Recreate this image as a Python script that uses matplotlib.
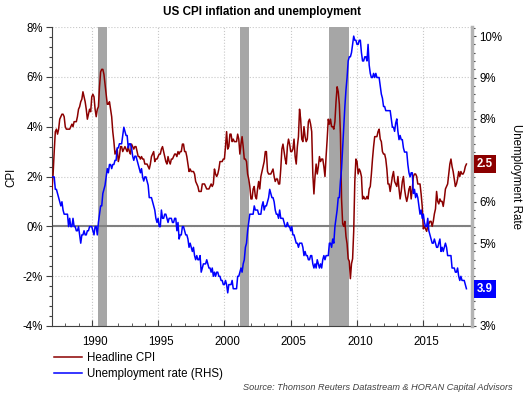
import matplotlib
matplotlib.use('Agg')
import matplotlib.pyplot as plt
import numpy as np
from matplotlib.lines import Line2D
from matplotlib.ticker import MultipleLocator, FuncFormatter, FixedLocator
from matplotlib.transforms import blended_transform_factory, ScaledTranslation

plt.rcParams['font.family'] = ['Liberation Sans', 'DejaVu Sans']

start_year = 1987  # monthly data, Jan 1987 .. Apr 2018

cpi = [
    1.5, 2.1, 3.0, 3.8, 3.9, 3.7, 3.9, 4.3, 4.4, 4.5, 4.5, 4.4,
    4.0, 3.9, 3.9, 3.9, 3.9, 4.0, 4.1, 4.0, 4.2, 4.2, 4.2, 4.4,
    4.7, 4.8, 5.0, 5.1, 5.4, 5.2, 5.0, 4.7, 4.3, 4.5, 4.7, 4.6,
    5.2, 5.3, 5.2, 4.7, 4.4, 4.7, 4.8, 5.6, 6.2, 6.3, 6.3, 6.1,
    5.7, 5.3, 4.9, 4.9, 5.0, 4.7, 4.4, 3.8, 3.4, 2.9, 3.0, 3.1,
    2.6, 2.8, 3.2, 3.2, 3.0, 3.1, 3.2, 3.1, 3.0, 3.2, 3.0, 2.9,
    3.3, 3.2, 3.1, 3.2, 3.2, 3.0, 2.8, 2.8, 2.7, 2.8, 2.7, 2.7,
    2.5, 2.5, 2.5, 2.4, 2.3, 2.5, 2.8, 2.9, 3.0, 2.6, 2.7, 2.7,
    2.8, 2.9, 2.9, 3.1, 3.2, 3.0, 2.8, 2.6, 2.5, 2.8, 2.6, 2.5,
    2.7, 2.7, 2.8, 2.9, 2.9, 2.8, 3.0, 2.9, 3.0, 3.0, 3.3, 3.3,
    3.0, 3.0, 2.8, 2.5, 2.2, 2.3, 2.2, 2.2, 2.2, 2.1, 1.8, 1.7,
    1.6, 1.4, 1.4, 1.4, 1.7, 1.7, 1.7, 1.6, 1.5, 1.5, 1.5, 1.6,
    1.7, 1.6, 1.7, 2.3, 2.1, 2.0, 2.1, 2.3, 2.6, 2.6, 2.6, 2.7,
    2.7, 3.2, 3.8, 3.1, 3.2, 3.7, 3.7, 3.4, 3.5, 3.4, 3.4, 3.4,
    3.7, 3.5, 2.9, 3.3, 3.6, 3.2, 2.7, 2.7, 2.6, 2.1, 1.9, 1.6,
    1.1, 1.1, 1.5, 1.6, 1.2, 1.1, 1.5, 1.8, 1.5, 2.0, 2.2, 2.4,
    2.6, 3.0, 3.0, 2.2, 2.1, 2.1, 2.1, 2.2, 2.3, 2.0, 1.8, 1.9,
    1.9, 1.7, 1.7, 2.3, 3.1, 3.3, 3.0, 2.7, 2.5, 3.2, 3.5, 3.3,
    3.0, 3.0, 3.1, 3.5, 2.8, 2.5, 3.2, 3.6, 4.7, 4.3, 3.5, 3.4,
    4.0, 3.6, 3.4, 3.5, 4.2, 4.3, 4.1, 3.8, 2.1, 1.3, 2.0, 2.5,
    2.1, 2.4, 2.8, 2.6, 2.7, 2.7, 2.4, 2.0, 2.8, 3.5, 4.3, 4.1,
    4.3, 4.0, 4.0, 3.9, 4.2, 5.0, 5.6, 5.4, 4.9, 3.7, 1.1, 0.1,
    0.0, 0.2, -0.4, -0.7, -1.3, -1.4, -2.1, -1.5, -1.3, -0.2, 1.8, 2.7,
    2.6, 2.1, 2.3, 2.2, 2.0, 1.1, 1.2, 1.1, 1.1, 1.2, 1.1, 1.5,
    1.6, 2.1, 2.7, 3.2, 3.6, 3.6, 3.6, 3.8, 3.9, 3.5, 3.4, 3.0,
    2.9, 2.9, 2.7, 2.3, 1.7, 1.7, 1.4, 1.7, 2.0, 2.2, 1.8, 1.7,
    1.6, 2.0, 1.5, 1.1, 1.4, 1.8, 2.0, 1.5, 1.2, 1.0, 1.2, 1.5,
    1.6, 1.1, 1.5, 2.0, 2.1, 2.1, 2.0, 1.7, 1.7, 1.7, 1.3, 0.8,
    -0.1, 0.0, -0.1, -0.2, 0.0, 0.1, 0.2, 0.2, 0.0, 0.2, 0.5, 0.7,
    1.4, 1.0, 0.9, 1.1, 1.0, 1.0, 0.8, 1.1, 1.5, 1.6, 1.7, 2.1,
    2.5, 2.7, 2.4, 2.2, 1.9, 1.6, 1.7, 1.9, 2.2, 2.0, 2.2, 2.1,
    2.1, 2.2, 2.4, 2.5,
]

unemployment = [
    6.6, 6.6, 6.6, 6.3, 6.3, 6.2, 6.1, 6.0, 5.9, 6.0, 5.8, 5.7,
    5.7, 5.7, 5.7, 5.4, 5.6, 5.4, 5.4, 5.6, 5.4, 5.4, 5.3, 5.3,
    5.4, 5.2, 5.0, 5.2, 5.2, 5.3, 5.2, 5.2, 5.3, 5.3, 5.4, 5.4,
    5.4, 5.3, 5.2, 5.4, 5.4, 5.2, 5.5, 5.7, 5.9, 5.9, 6.2, 6.3,
    6.4, 6.6, 6.8, 6.7, 6.9, 6.9, 6.8, 6.9, 6.9, 7.0, 7.0, 7.3,
    7.3, 7.4, 7.4, 7.4, 7.6, 7.8, 7.7, 7.6, 7.6, 7.3, 7.4, 7.4,
    7.3, 7.1, 7.0, 7.1, 7.1, 7.0, 6.9, 6.8, 6.7, 6.8, 6.6, 6.5,
    6.6, 6.6, 6.5, 6.4, 6.1, 6.1, 6.1, 6.0, 5.9, 5.8, 5.6, 5.5,
    5.6, 5.4, 5.4, 5.8, 5.6, 5.6, 5.7, 5.7, 5.6, 5.5, 5.6, 5.6,
    5.6, 5.5, 5.5, 5.6, 5.6, 5.3, 5.5, 5.1, 5.2, 5.2, 5.4, 5.4,
    5.3, 5.2, 5.2, 5.1, 4.9, 5.0, 4.9, 4.8, 4.9, 4.7, 4.6, 4.7,
    4.6, 4.6, 4.7, 4.3, 4.4, 4.5, 4.5, 4.5, 4.6, 4.5, 4.4, 4.4,
    4.3, 4.4, 4.2, 4.3, 4.2, 4.3, 4.3, 4.2, 4.2, 4.1, 4.1, 4.0,
    4.0, 4.1, 4.0, 3.8, 4.0, 4.0, 4.0, 4.1, 3.9, 3.9, 3.9, 3.9,
    4.2, 4.2, 4.3, 4.4, 4.3, 4.5, 4.6, 4.9, 5.0, 5.3, 5.5, 5.7,
    5.7, 5.7, 5.7, 5.9, 5.8, 5.8, 5.8, 5.7, 5.7, 5.7, 5.9, 6.0,
    5.8, 5.9, 5.9, 6.0, 6.1, 6.3, 6.2, 6.1, 6.1, 6.0, 5.8, 5.7,
    5.7, 5.6, 5.8, 5.6, 5.6, 5.6, 5.5, 5.4, 5.4, 5.5, 5.4, 5.4,
    5.3, 5.4, 5.2, 5.2, 5.1, 5.0, 5.0, 4.9, 5.0, 5.0, 5.0, 4.9,
    4.7, 4.8, 4.7, 4.7, 4.6, 4.6, 4.7, 4.7, 4.5, 4.4, 4.5, 4.4,
    4.6, 4.5, 4.4, 4.5, 4.4, 4.6, 4.7, 4.6, 4.7, 4.7, 4.7, 5.0,
    5.0, 4.9, 5.1, 5.0, 5.4, 5.6, 5.8, 6.1, 6.1, 6.5, 6.8, 7.3,
    7.8, 8.3, 8.7, 9.0, 9.4, 9.5, 9.5, 9.6, 9.8, 10.0, 9.9, 9.9,
    9.8, 9.8, 9.9, 9.9, 9.6, 9.4, 9.4, 9.5, 9.5, 9.4, 9.8, 9.3,
    9.1, 9.0, 9.0, 9.1, 9.0, 9.1, 9.0, 9.0, 9.0, 8.8, 8.6, 8.5,
    8.3, 8.3, 8.2, 8.2, 8.2, 8.2, 8.2, 8.0, 7.8, 7.8, 7.7, 7.9,
    8.0, 7.7, 7.5, 7.6, 7.5, 7.5, 7.3, 7.2, 7.2, 7.2, 6.9, 6.7,
    6.6, 6.7, 6.7, 6.2, 6.3, 6.1, 6.2, 6.1, 5.9, 5.7, 5.8, 5.6,
    5.7, 5.5, 5.4, 5.4, 5.6, 5.3, 5.2, 5.1, 5.0, 5.0, 5.1, 5.0,
    4.9, 4.9, 5.0, 5.1, 4.8, 4.9, 4.8, 4.9, 5.0, 4.9, 4.7, 4.7,
    4.7, 4.7, 4.4, 4.4, 4.4, 4.3, 4.3, 4.4, 4.2, 4.1, 4.2, 4.1,
    4.1, 4.1, 4.0, 3.9,
]

recessions = [(1990.5, 1991.17), (2001.17, 2001.83), (2007.92, 2009.42)]
year_ticks = [1990, 1995, 2000, 2005, 2010, 2015]

title = 'US CPI inflation and unemployment'
cpi_label = 'Headline CPI'
unemp_label = 'Unemployment rate (RHS)'
source = 'Source: Thomson Reuters Datastream & HORAN Capital Advisors'

cpi_color = '#8B0000'
unemp_color = '#0000FF'

t = start_year + np.arange(len(cpi)) / 12.0
tu = start_year + np.arange(len(unemployment)) / 12.0

W, H = 526, 394
fig = plt.figure(figsize=(W / 100, H / 100), dpi=100)
L, R, T, B = 52, 472, 27, 326
ax = fig.add_axes([L / W, 1 - B / H, (R - L) / W, (B - T) / H])
ax2 = ax.twinx()

pct = FuncFormatter(lambda v, p: f'{v:.0f}%')

ax.set_xlim(1987.0, 2018.67)
ax.set_ylim(-4, 8)
ax2.set_ylim(3, 10.22)

for s, e in recessions:
    ax.axvspan(s, e, color='#a6a6a6', lw=0, zorder=1)

ax.axhline(0, color='#808080', lw=1.5, zorder=2)
ax.plot(t, cpi, color=cpi_color, lw=1.1, zorder=3)
ax2.plot(tu, unemployment, color=unemp_color, lw=1.1, zorder=3)

ax.set_axisbelow(True)
ax.xaxis.set_major_locator(FixedLocator(year_ticks))
ax.xaxis.set_minor_locator(MultipleLocator(1))
ax.yaxis.set_major_locator(MultipleLocator(2))
ax.yaxis.set_minor_locator(MultipleLocator(0.4))
ax.yaxis.set_major_formatter(pct)
ax2.yaxis.set_major_locator(MultipleLocator(1))
ax2.yaxis.set_minor_locator(MultipleLocator(0.2))
ax2.yaxis.set_major_formatter(pct)
ax.grid(True, which='major', ls=':', color='#c8c8c8', lw=0.8)

fs = 8.3
ax.tick_params(axis='y', which='both', direction='out', labelsize=fs, colors='#000000', pad=2.5)
ax.tick_params(axis='y', which='major', length=4, width=0.8, color='#404040')
ax.tick_params(axis='y', which='minor', length=2, width=0.8, color='#404040')
ax.tick_params(axis='x', which='both', direction='in', labelsize=fs, pad=7, color='#404040')
ax.tick_params(axis='x', which='major', length=4)
ax.tick_params(axis='x', which='minor', length=2.5)
ax2.tick_params(axis='y', which='major', direction='out', length=3, width=0.8, labelsize=fs, color='#404040', pad=2.5)
ax2.tick_params(axis='y', which='minor', direction='out', length=2, width=0.8, color='#404040')

for sp in ['top', 'right']:
    ax.spines[sp].set_visible(False)
for sp in ['top', 'left', 'bottom']:
    ax2.spines[sp].set_visible(False)
ax.spines['left'].set_color('#404040')
ax.spines['left'].set_linewidth(0.8)
ax.spines['bottom'].set_color('#404040')
ax.spines['bottom'].set_linewidth(0.8)
ax2.spines['right'].set_color('#b4b4b4')
ax2.spines['right'].set_linewidth(2.5)

# value boxes
tr_cpi = blended_transform_factory(ax2.transAxes, ax.transData)
box_kw = dict(ha='left', va='center', color='white', fontsize=fs, fontweight='bold',
              zorder=10, clip_on=False)
ax2.text(1.012, cpi[-1], f'{cpi[-1]:.1f}', transform=tr_cpi,
         bbox=dict(boxstyle='square,pad=0.28', fc=cpi_color, ec='none'), **box_kw)
ax2.text(1.012, unemployment[-1], f'{unemployment[-1]:.1f}',
         transform=ax2.get_yaxis_transform(),
         bbox=dict(boxstyle='square,pad=0.28', fc=unemp_color, ec='none'), **box_kw)

fig.text((L + R) / 2 / W, 1 - 12 / H, title, ha='center', va='center',
         fontsize=8.4, fontweight='bold')
fig.text(11 / W, 1 - 177 / H, 'CPI', rotation=90, ha='center', va='center', fontsize=fs)
fig.text(516 / W, 1 - 177 / H, 'Unemployment Rate', rotation=270, ha='center',
         va='center', fontsize=fs)

handles = [Line2D([], [], color=cpi_color, lw=1.1), Line2D([], [], color=unemp_color, lw=1.1)]
fig.legend(handles, [cpi_label, unemp_label], loc='upper left',
           bbox_to_anchor=(54 / W, 1 - 352 / H), frameon=False, fontsize=fs,
           handlelength=2.4, handletextpad=0.45, labelspacing=0.35,
           borderpad=0, borderaxespad=0)

fig.text(513 / W, 1 - 388 / H, source, ha='right', va='center', style='italic',
         fontsize=6.6, color='#404040')

# x tick labels sit slightly right of their ticks in the reference
fig.canvas.draw()
shift = ScaledTranslation(3 / 100, 0, fig.dpi_scale_trans)
for tk in ax.xaxis.get_major_ticks():
    tk.label1.set_transform(tk.label1.get_transform() + shift)

fig.savefig('out.png', dpi=100)
